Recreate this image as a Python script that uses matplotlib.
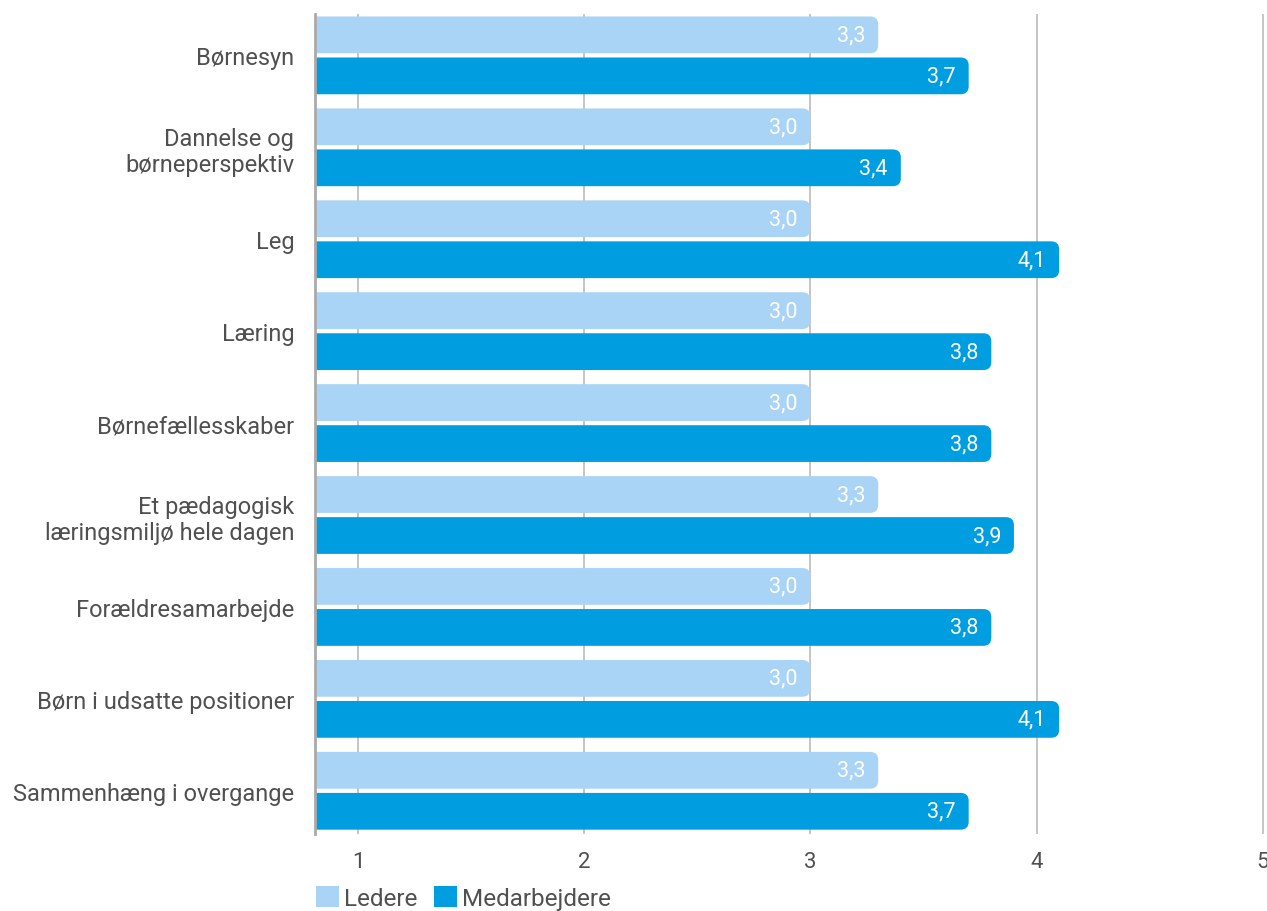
import numpy as np
import matplotlib
matplotlib.use("Agg")
import matplotlib.pyplot as plt
from matplotlib.patches import FancyBboxPatch

plt.rcParams['font.family'] = ['Roboto', 'DejaVu Sans']

categories = ["Børnesyn", "Dannelse og\nbørneperspektiv", "Leg", "Læring",
              "Børnefællesskaber", "Et pædagogisk\nlæringsmiljø hele dagen",
              "Forældresamarbejde", "Børn i udsatte positioner",
              "Sammenhæng i overgange"]
ledere = [3.3, 3.0, 3.0, 3.0, 3.0, 3.3, 3.0, 3.0, 3.3]
medarbejdere = [3.7, 3.4, 4.1, 3.8, 3.8, 3.9, 3.8, 4.1, 3.7]
series_names = ["Ledere", "Medarbejdere"]
xticks = [1, 2, 3, 4, 5]

light = "#A9D4F5"
dark = "#009EE0"
text_col = "#505050"

W, H = 1267, 912
fig = plt.figure(figsize=(W / 100, H / 100), dpi=100)
ax = fig.add_axes([315 / W, 1 - 835 / H, (1265 - 315) / W, (835 - 15) / H])

x0, x1 = 0.81, 5.01
ax.set_xlim(x0, x1)
ax.set_ylim(8.47, -0.45)

y = np.arange(len(categories))
off = 0.223
h = 0.40
# px per data unit, for rounding corners
px_x = (1265 - 315) / (x1 - x0)
px_y = (835 - 15) / (8.47 + 0.45)
r = 8 / px_x

for vals, col, dy in [(ledere, light, -off), (medarbejdere, dark, off)]:
    bars = ax.barh(y + dy, np.array(vals) - 0.6, left=0.6, height=h, color=col)
    for b, v in zip(bars, vals):
        b.set_visible(False)
        p = FancyBboxPatch((b.get_x(), b.get_y()), b.get_width(), b.get_height(),
                           boxstyle=f"round,pad=0,rounding_size={r}",
                           mutation_aspect=px_x / px_y,
                           facecolor=col, edgecolor="none", zorder=2)
        ax.add_patch(p)
        ax.text(v - 13 / px_x, b.get_y() + b.get_height() / 2,
                f"{v:.1f}".replace(".", ","), ha="right", va="center",
                color="white", fontsize=15.5, zorder=3)

ax.set_xticks(xticks)
ax.set_xticklabels([str(t) for t in xticks], fontsize=16, color=text_col)
ax.grid(axis="x", color="#BBBBBB", linewidth=1.2, zorder=0)
ax.set_axisbelow(True)
ax.tick_params(axis="x", length=0, pad=12)
ax.set_yticks(y)
ax.set_yticklabels(categories, fontsize=17, color=text_col, ha="right")
ax.tick_params(axis="y", length=0, pad=15)

for s in ["top", "right", "bottom"]:
    ax.spines[s].set_visible(False)
ax.spines["left"].set_color("#AAAAAA")
ax.spines["left"].set_linewidth(2)
ax.spines["left"].set_zorder(4)

handles = [FancyBboxPatch((0, 0), 1, 1, facecolor=c, edgecolor="none") for c in (light, dark)]
fig.legend(handles, series_names, loc="lower left",
           bbox_to_anchor=(316 / W, 0.001), ncol=2, frameon=False,
           borderpad=0, borderaxespad=0,
           fontsize=17.5, handlelength=0.95, handleheight=0.95,
           handletextpad=0.2, columnspacing=0.7, labelcolor=text_col)

fig.savefig("out.png", dpi=100)
